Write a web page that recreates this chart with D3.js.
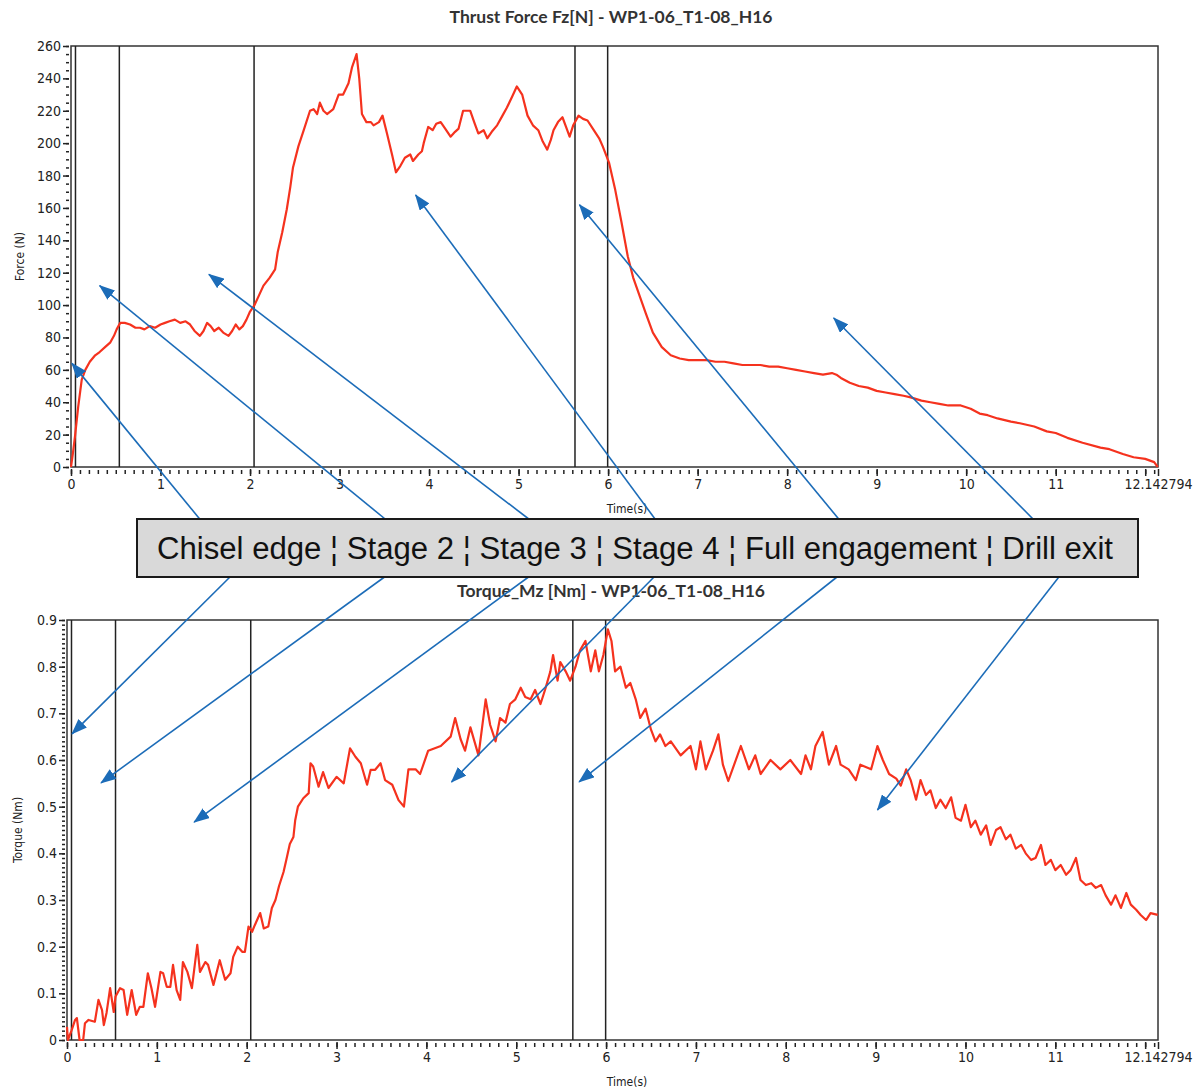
<!DOCTYPE html>
<html>
<head>
<meta charset="utf-8">
<script src="https://cdn.jsdelivr.net/npm/d3@7/dist/d3.min.js"></script>
<style>
  body { margin: 0; background: #fff; }
  .tick text { font-family: "DejaVu Sans Condensed", "DejaVu Sans", sans-serif; font-size: 14px; fill: #222; }
  .tick line { stroke: #222; stroke-width: 1.5; }
</style>
</head>
<body>
<div id="chart"></div>
<script>
var svgWidth = 1199;
var svgHeight = 1090;

// total recording time (s)
var tEnd = 12.142794;

// time ticks on both x axes
var timeTicks = [0, 1, 2, 3, 4, 5, 6, 7, 8, 9, 10, 11, 12, 12.142794];
var forceTicks = [0, 20, 40, 60, 80, 100, 120, 140, 160, 180, 200, 220, 240, 260];
var torqueTicks = [0, 0.1, 0.2, 0.3, 0.4, 0.5, 0.6, 0.7, 0.8, 0.9];

// stage boundaries (s), same for both signals
var stageTimes = [0.05, 0.54, 2.045, 5.63, 5.995];

var stageLabel = "Chisel edge \u00a6 Stage 2 \u00a6 Stage 3 \u00a6 Stage 4 \u00a6 Full engagement \u00a6 Drill exit";

// thrust force Fz [N] : [time, value]
var thrustForce = [
  [0,0],[0.02,8],[0.045,19],[0.08,37],[0.12,54],[0.16,60],[0.21,65],[0.27,69],[0.32,71],[0.38,74],
  [0.44,77],[0.48,81],[0.51,85],[0.55,89],[0.6,89],[0.66,88],[0.72,86],[0.77,86],[0.82,85],[0.88,87],
  [0.94,86],[1.0,88],[1.05,89],[1.1,90],[1.16,91],[1.22,89],[1.28,90],[1.33,88],[1.38,84],[1.44,81],
  [1.48,84],[1.52,89],[1.56,87],[1.6,84],[1.65,86],[1.7,83],[1.76,81],[1.8,84],[1.84,88],[1.88,85],
  [1.92,87],[1.96,91],[2.0,96],[2.05,100],[2.1,106],[2.15,112],[2.22,117],[2.28,122],[2.31,133],[2.36,145],
  [2.41,159],[2.45,173],[2.48,185],[2.54,198],[2.6,208],[2.67,220],[2.71,221],[2.75,218],[2.78,225],[2.82,220],
  [2.86,218],[2.93,221],[2.99,230],[3.04,230],[3.1,237],[3.14,247],[3.19,255],[3.22,240],[3.25,218],[3.3,213],
  [3.35,213],[3.38,211],[3.44,213],[3.48,217],[3.53,206],[3.59,192],[3.63,182],[3.68,186],[3.73,191],[3.79,193],
  [3.82,189],[3.88,193],[3.92,195],[3.94,200],[3.99,210],[4.04,208],[4.08,212],[4.13,213],[4.18,209],[4.24,204],
  [4.29,207],[4.33,209],[4.38,220],[4.46,220],[4.51,212],[4.55,206],[4.61,208],[4.65,203],[4.7,207],[4.76,211],
  [4.82,217],[4.87,222],[4.93,229],[4.98,235],[5.04,230],[5.1,217],[5.16,211],[5.22,208],[5.27,201],[5.32,196],
  [5.36,202],[5.39,208],[5.44,213],[5.49,216],[5.53,210],[5.57,204],[5.61,211],[5.67,217],[5.72,215],[5.77,214],
  [5.84,208],[5.9,203],[5.94,198],[6.01,188],[6.08,171],[6.15,151],[6.22,130],[6.28,117],[6.35,106],[6.42,95],
  [6.5,83],[6.6,74],[6.7,69],[6.8,67],[6.9,66],[7.0,66],[7.1,66],[7.2,65],[7.3,65],[7.4,64],
  [7.5,63],[7.6,63],[7.7,63],[7.8,62],[7.9,62],[8.0,61],[8.1,60],[8.2,59],[8.3,58],[8.4,57],
  [8.5,58],[8.55,57],[8.6,55],[8.7,52],[8.8,50],[8.9,49],[9.0,47],[9.1,46],[9.2,45],[9.3,44],
  [9.38,43],[9.5,41],[9.6,40],[9.7,39],[9.8,38],[9.94,38],[10.05,36],[10.15,33],[10.24,32],[10.35,30],
  [10.5,28],[10.6,27],[10.76,25],[10.9,22],[11.0,21],[11.13,18],[11.3,15],[11.5,12],[11.6,11],[11.75,8],
  [11.87,6],[12.0,5],[12.1,3],[12.14,0]
];

// torque Mz [Nm] : [time, value]
var torqueMz = [
  [0,0.028],[0.01,0],[0.05,0.02],[0.09,0.043],[0.11,0.047],[0.14,0],[0.18,0],[0.2,0.036],[0.24,0.043],[0.31,0.039],
  [0.35,0.086],[0.39,0.064],[0.41,0.032],[0.44,0.058],[0.48,0.111],[0.52,0.06],[0.54,0.093],[0.59,0.111],[0.63,0.107],[0.67,0.054],
  [0.72,0.107],[0.77,0.054],[0.81,0.071],[0.85,0.071],[0.9,0.143],[0.94,0.111],[0.98,0.071],[1.04,0.146],[1.07,0.143],[1.11,0.114],
  [1.15,0.114],[1.18,0.161],[1.22,0.107],[1.26,0.086],[1.29,0.167],[1.34,0.146],[1.39,0.111],[1.45,0.204],[1.48,0.146],[1.54,0.167],
  [1.57,0.161],[1.63,0.118],[1.7,0.171],[1.76,0.129],[1.82,0.143],[1.85,0.178],[1.9,0.2],[1.95,0.189],[1.98,0.189],[2.02,0.243],
  [2.06,0.232],[2.09,0.246],[2.15,0.272],[2.19,0.239],[2.24,0.243],[2.28,0.283],[2.32,0.3],[2.36,0.33],[2.41,0.36],[2.44,0.385],
  [2.48,0.42],[2.52,0.435],[2.54,0.471],[2.57,0.5],[2.63,0.518],[2.69,0.529],[2.71,0.593],[2.74,0.586],[2.8,0.543],[2.85,0.574],
  [2.91,0.54],[3.0,0.564],[3.08,0.55],[3.15,0.625],[3.21,0.607],[3.27,0.593],[3.34,0.547],[3.38,0.579],[3.43,0.579],[3.49,0.593],
  [3.54,0.557],[3.62,0.547],[3.69,0.514],[3.75,0.5],[3.8,0.58],[3.88,0.58],[3.93,0.57],[4.02,0.62],[4.16,0.63],[4.27,0.65],
  [4.32,0.69],[4.38,0.645],[4.43,0.62],[4.49,0.67],[4.58,0.61],[4.66,0.73],[4.71,0.675],[4.77,0.64],[4.82,0.69],[4.88,0.68],
  [4.93,0.72],[4.99,0.73],[5.05,0.755],[5.1,0.735],[5.16,0.73],[5.21,0.75],[5.27,0.72],[5.32,0.75],[5.38,0.79],[5.41,0.825],
  [5.46,0.77],[5.49,0.81],[5.55,0.79],[5.6,0.77],[5.66,0.8],[5.71,0.835],[5.77,0.855],[5.83,0.79],[5.88,0.835],[5.92,0.79],
  [5.97,0.825],[6.02,0.88],[6.06,0.855],[6.1,0.79],[6.16,0.8],[6.22,0.755],[6.27,0.765],[6.33,0.73],[6.38,0.69],[6.44,0.71],
  [6.5,0.665],[6.55,0.64],[6.6,0.655],[6.66,0.63],[6.72,0.64],[6.83,0.61],[6.94,0.63],[7.0,0.58],[7.05,0.64],[7.11,0.58],
  [7.19,0.62],[7.25,0.655],[7.3,0.59],[7.36,0.555],[7.5,0.63],[7.59,0.58],[7.66,0.61],[7.72,0.57],[7.83,0.6],[7.94,0.58],
  [8.05,0.6],[8.17,0.57],[8.22,0.61],[8.28,0.58],[8.33,0.63],[8.41,0.66],[8.48,0.59],[8.56,0.63],[8.61,0.59],[8.7,0.58],
  [8.78,0.557],[8.83,0.59],[8.95,0.58],[9.02,0.63],[9.08,0.6],[9.15,0.57],[9.23,0.56],[9.28,0.545],[9.34,0.58],[9.39,0.557],
  [9.45,0.515],[9.5,0.557],[9.56,0.525],[9.61,0.535],[9.67,0.497],[9.72,0.515],[9.78,0.497],[9.84,0.52],[9.89,0.476],[9.95,0.47],
  [10.0,0.504],[10.06,0.456],[10.11,0.47],[10.17,0.44],[10.23,0.46],[10.28,0.418],[10.34,0.45],[10.39,0.456],[10.45,0.43],[10.5,0.44],
  [10.56,0.41],[10.62,0.418],[10.67,0.4],[10.73,0.386],[10.78,0.39],[10.84,0.418],[10.89,0.375],[10.95,0.386],[11.0,0.364],[11.06,0.375],
  [11.12,0.354],[11.17,0.364],[11.23,0.39],[11.28,0.343],[11.34,0.332],[11.4,0.336],[11.45,0.326],[11.51,0.332],[11.56,0.31],[11.62,0.29],
  [11.67,0.31],[11.73,0.283],[11.79,0.315],[11.84,0.29],[11.9,0.279],[11.95,0.268],[12.01,0.257],[12.06,0.272],[12.14,0.268]
];

// arrow tips, in each panel's own data units [time, value]
var forceArrowTips = [[0.01, 64], [0.32, 112], [1.54, 119], [3.85, 168], [5.68, 162], [8.52, 92]];
var torqueArrowTips = [[0.056, 0.656], [0.379, 0.551], [1.415, 0.467], [4.28, 0.553], [5.70, 0.553], [9.02, 0.493]];

// where the arrows leave the label box (px along the box edge)
var boxTopAnchors = [203, 390, 534, 658, 842, 1037];
var boxBottomAnchors = [234, 390, 534, 658, 842, 1062];

var lineColor = "#f5321e";
var arrowColor = "#1c6cb8";

var svg = d3.select("#chart")
  .append("svg")
  .attr("width", svgWidth)
  .attr("height", svgHeight);

svg.append("defs").append("marker")
  .attr("id", "head")
  .attr("viewBox", "0 0 16 12")
  .attr("refX", 15)
  .attr("refY", 6)
  .attr("markerWidth", 16)
  .attr("markerHeight", 12)
  .attr("markerUnits", "userSpaceOnUse")
  .attr("orient", "auto")
  .append("path")
  .attr("d", "M0,0L16,6L0,12Z")
  .attr("fill", arrowColor);

function noDomain(g) { g.select(".domain").remove(); }

// draws one panel and returns its scales
function drawPanel(p) {
  var x = d3.scaleLinear().domain([0, tEnd]).range([p.left, p.right]);
  var y = d3.scaleLinear().domain([0, p.yMax]).range([p.bottom, p.top]);
  var g = svg.append("g");

  // minor y ticks
  g.append("g")
    .attr("transform", "translate(" + (p.left - 2) + ",0)")
    .call(d3.axisLeft(y).tickValues(d3.range(0, p.yMax + p.yMinor / 2, p.yMinor)).tickSize(3).tickFormat(""))
    .call(noDomain);

  // major y ticks + labels
  g.append("g")
    .attr("transform", "translate(" + (p.left - 2) + ",0)")
    .call(d3.axisLeft(y).tickValues(p.yTicks).tickSize(6).tickPadding(2)
      .tickFormat(function(d) { return +d.toFixed(1); }))
    .call(noDomain);

  // minor x ticks
  g.append("g")
    .attr("transform", "translate(0," + (p.bottom + 3) + ")")
    .call(d3.axisBottom(x).tickValues(d3.range(0, 12.15, 0.1)).tickSize(4).tickFormat(""))
    .call(noDomain);

  // major x ticks + labels
  g.append("g")
    .attr("transform", "translate(0," + (p.bottom + 2) + ")")
    .call(d3.axisBottom(x).tickValues(timeTicks).tickSize(7).tickPadding(3)
      .tickFormat(function(d) { return d === 12 ? "" : d; }))
    .call(noDomain);

  // frame
  g.append("rect")
    .attr("x", p.left)
    .attr("y", p.top)
    .attr("width", p.right - p.left)
    .attr("height", p.bottom - p.top)
    .attr("fill", "none")
    .attr("stroke", "#333")
    .attr("stroke-width", 1.5);

  // stage boundaries
  g.selectAll(".stage")
    .data(stageTimes)
    .enter()
    .append("line")
    .attr("x1", function(d) { return x(d); })
    .attr("x2", function(d) { return x(d); })
    .attr("y1", p.top)
    .attr("y2", p.bottom)
    .attr("stroke", "#222")
    .attr("stroke-width", 1.5);

  // signal
  var line = d3.line()
    .x(function(d) { return x(d[0]); })
    .y(function(d) { return y(d[1]); });

  g.append("path")
    .datum(p.data)
    .attr("d", line)
    .attr("fill", "none")
    .attr("stroke", lineColor)
    .attr("stroke-width", 2.2)
    .attr("stroke-linejoin", "round");

  // title
  g.append("text")
    .attr("x", 611)
    .attr("y", p.top - 23)
    .attr("text-anchor", "middle")
    .style("font-family", "Lato, 'Open Sans', sans-serif")
    .style("font-weight", "bold")
    .style("font-size", "17.5px")
    .style("fill", "#333")
    .text(p.title);

  // x label
  g.append("text")
    .attr("x", 627)
    .attr("y", p.bottom + 46)
    .attr("text-anchor", "middle")
    .style("font-family", "'DejaVu Sans Condensed', 'DejaVu Sans', sans-serif")
    .style("font-size", "12px")
    .style("fill", "#222")
    .text("Time(s)");

  // y label
  g.append("text")
    .attr("transform", "translate(" + p.yLabelX + "," + ((p.top + p.bottom) / 2) + ") rotate(-90)")
    .attr("text-anchor", "middle")
    .style("font-family", "'DejaVu Sans Condensed', 'DejaVu Sans', sans-serif")
    .style("font-size", "12px")
    .style("fill", "#222")
    .text(p.yLabel);

  return { x: x, y: y };
}

var topPanel = drawPanel({
  left: 71, right: 1158, top: 46, bottom: 467,
  yMax: 260, yTicks: forceTicks, yMinor: 5,
  data: thrustForce,
  title: "Thrust Force Fz[N] - WP1-06_T1-08_H16",
  yLabel: "Force (N)", yLabelX: 24
});

var bottomPanel = drawPanel({
  left: 67, right: 1158, top: 620, bottom: 1040,
  yMax: 0.9, yTicks: torqueTicks, yMinor: 0.01,
  data: torqueMz,
  title: "Torque_Mz [Nm] - WP1-06_T1-08_H16",
  yLabel: "Torque (Nm)", yLabelX: 22
});

// label box geometry
var box = { x: 137, y: 519, w: 1001, h: 58 };

// arrows up into the thrust panel
svg.selectAll(".arrow-up")
  .data(forceArrowTips)
  .enter()
  .append("line")
  .attr("x1", function(d, i) { return boxTopAnchors[i]; })
  .attr("y1", box.y + 4)
  .attr("x2", function(d) { return topPanel.x(d[0]); })
  .attr("y2", function(d) { return topPanel.y(d[1]); })
  .attr("stroke", arrowColor)
  .attr("stroke-width", 1.6)
  .attr("marker-end", "url(#head)");

// arrows down into the torque panel
svg.selectAll(".arrow-down")
  .data(torqueArrowTips)
  .enter()
  .append("line")
  .attr("x1", function(d, i) { return boxBottomAnchors[i]; })
  .attr("y1", box.y + box.h - 4)
  .attr("x2", function(d) { return bottomPanel.x(d[0]); })
  .attr("y2", function(d) { return bottomPanel.y(d[1]); })
  .attr("stroke", arrowColor)
  .attr("stroke-width", 1.6)
  .attr("marker-end", "url(#head)");

// label box on top of the arrows
svg.append("rect")
  .attr("x", box.x)
  .attr("y", box.y)
  .attr("width", box.w)
  .attr("height", box.h)
  .attr("fill", "#d9d9d9")
  .attr("stroke", "#1a1a1a")
  .attr("stroke-width", 2);

svg.append("text")
  .attr("x", 157)
  .attr("y", 559)
  .attr("textLength", 956)
  .attr("lengthAdjust", "spacingAndGlyphs")
  .style("font-family", "'Liberation Sans', Arial, sans-serif")
  .style("font-size", "31px")
  .style("fill", "#111")
  .text(stageLabel);
</script>
</body>
</html>
